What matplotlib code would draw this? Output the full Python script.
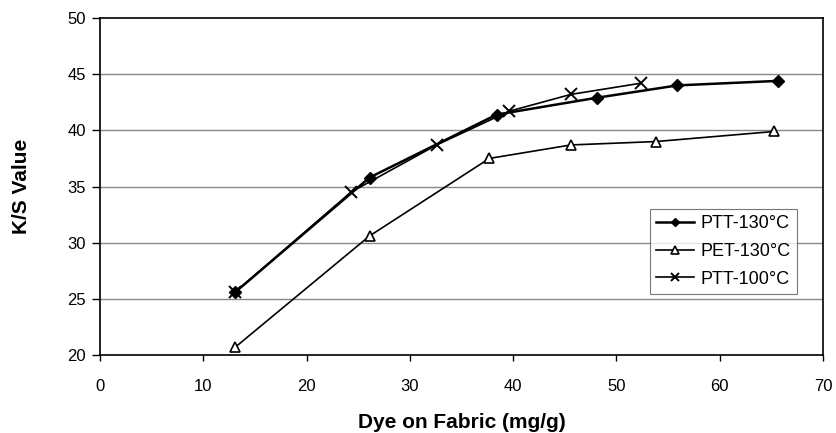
import matplotlib
matplotlib.use("Agg")
import matplotlib.pyplot as plt

ptt130_x = [13.1, 26.1, 38.4, 48.1, 55.9, 65.6]
ptt130_y = [25.6, 35.8, 41.4, 42.9, 44.0, 44.4]
pet130_x = [13.1, 26.1, 37.7, 45.6, 53.8, 65.3]
pet130_y = [20.7, 30.6, 37.5, 38.7, 39.0, 39.9]
ptt100_x = [13.1, 24.3, 32.6, 39.6, 45.6, 52.4]
ptt100_y = [25.6, 34.5, 38.7, 41.7, 43.2, 44.2]

xticks = [0, 10, 20, 30, 40, 50, 60, 70]
yticks = [20, 25, 30, 35, 40, 45, 50]

plt.rcParams['font.family'] = ['Liberation Sans', 'DejaVu Sans']
fig = plt.figure(figsize=(8.36, 4.33), dpi=100)
ax = fig.add_axes([100/836, 78/433, 723/836, 337/433])

for y in yticks[1:-1]:
    ax.axhline(y, color='#888888', lw=1.0, zorder=0)

ax.plot(ptt130_x, ptt130_y, color='black', lw=1.8, marker='D', ms=6,
        mfc='black', mec='black', label='PTT-130°C', zorder=3)
ax.plot(pet130_x, pet130_y, color='black', lw=1.2, marker='^', ms=7,
        mfc='white', mec='black', mew=1.2, label='PET-130°C', zorder=3)
ax.plot(ptt100_x, ptt100_y, color='black', lw=1.2, marker='x', ms=8,
        mec='black', mew=1.4, label='PTT-100°C', zorder=3)

ax.set_xlim(0, 70)
ax.set_ylim(20, 50)
ax.set_xticks(xticks)
ax.set_yticks(yticks)
ax.tick_params(direction='out', width=1, labelsize=12, colors='black')
ax.tick_params(axis='y', length=6, pad=4)
ax.tick_params(axis='x', length=4, pad=13)
for s in ax.spines.values():
    s.set_color('black')
    s.set_linewidth(1.2)

ax.set_xlabel('Dye on Fabric (mg/g)', fontsize=15, fontweight='bold', va='center')
ax.xaxis.set_label_coords(0.5, -0.199)
ax.set_ylabel('K/S Value', fontsize=15, fontweight='bold', va='center')
ax.yaxis.set_label_coords(-0.108, 0.5)

leg = ax.legend(loc='lower right', bbox_to_anchor=(0.964, 0.181), fontsize=13,
                frameon=True, fancybox=False, edgecolor='#555555',
                handlelength=2.1, handletextpad=0.35, borderpad=0.35,
                labelspacing=0.6, borderaxespad=0, markerscale=0.75)
leg.get_frame().set_linewidth(0.8)

fig.savefig('out.png', dpi=100)
